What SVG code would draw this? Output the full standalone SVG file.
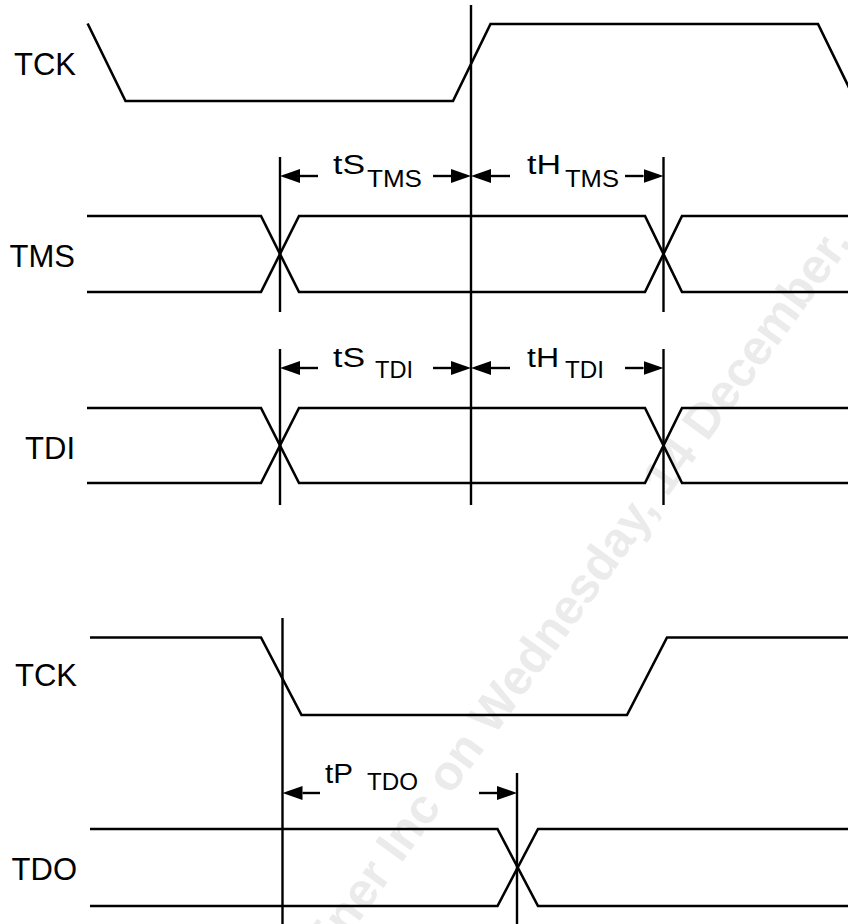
<svg xmlns="http://www.w3.org/2000/svg" width="848" height="924" viewBox="0 0 848 924">
  <style>
    .sig { fill: none; stroke: #000; stroke-width: 2.6; stroke-linejoin: miter; }
    .ref { stroke: #000; stroke-width: 2.4; }
    .dim { stroke: #000; stroke-width: 2.4; fill: none; }
    .lbl { font-family: "Liberation Sans", Arial, sans-serif; font-size: 31px; fill: #000; text-anchor: end; }
    .big { font-family: "Liberation Sans", Arial, sans-serif; font-size: 27px; fill: #000; }
    .sub { font-family: "Liberation Sans", Arial, sans-serif; font-size: 24px; fill: #000; }
    .wm { font-family: "Liberation Sans", Arial, sans-serif; font-size: 49px; font-weight: bold; fill: #ebebeb; }
  </style>
  <defs>
    <marker id="ah" markerUnits="userSpaceOnUse" markerWidth="22" markerHeight="16" viewBox="0 -8 22 16" refX="0" refY="0" orient="auto">
      <path d="M0,-7 L20,0 L0,7 Z" fill="#000"/>
    </marker>
  </defs>
  <rect width="848" height="924" fill="#fff"/>

  <g id="watermark">
    <text class="wm" x="340" y="948" transform="rotate(-54 340 948)">iner Inc on Wednesday, 14 December,</text>
  </g>

  <g id="tck-top">
    <text class="lbl" x="76" y="75">TCK</text>
    <polyline class="sig" points="87.6,23.5 125.5,101 453,101 490.5,24 818,24 856,102"/>
  </g>
  <g id="tms">
    <text class="lbl" x="75" y="267">TMS</text>
    <polyline class="sig" points="87,216 261,216 299,292 645,292 682,216 848,216"/>
    <polyline class="sig" points="87,292 261,292 299,216 645,216 682,292 848,292"/>
  </g>
  <g id="tdi">
    <text class="lbl" x="75" y="459">TDI</text>
    <polyline class="sig" points="87,408 261,408 299,483 645,483 682,408 848,408"/>
    <polyline class="sig" points="87,483 261,483 299,408 645,408 682,483 848,483"/>
  </g>
  <g id="tck-bottom">
    <text class="lbl" x="77" y="686">TCK</text>
    <polyline class="sig" points="90,637.5 261,637.5 301.5,715 627,715 667,637.5 848,637.5"/>
  </g>
  <g id="tdo">
    <text class="lbl" x="77" y="880">TDO</text>
    <polyline class="sig" points="90,829 497.5,829 538,906 848,906"/>
    <polyline class="sig" points="90,906 497.5,906 538,829 848,829"/>
  </g>

  <g id="connectors">
    <line class="ref" x1="471" y1="5" x2="471" y2="505"/>
    <line class="ref" x1="280" y1="157" x2="280" y2="312"/>
    <line class="ref" x1="663.5" y1="157" x2="663.5" y2="312"/>
    <line class="ref" x1="280" y1="349" x2="280" y2="505"/>
    <line class="ref" x1="663.5" y1="349" x2="663.5" y2="505"/>
    <line class="ref" x1="282.5" y1="618" x2="282.5" y2="924"/>
    <line class="ref" x1="517" y1="773" x2="517" y2="924"/>

    <line class="dim" x1="318" y1="176" x2="300" y2="176" marker-end="url(#ah)"/>
    <line class="dim" x1="433" y1="176" x2="451" y2="176" marker-end="url(#ah)"/>
    <line class="dim" x1="510" y1="176" x2="491" y2="176" marker-end="url(#ah)"/>
    <line class="dim" x1="625" y1="176" x2="643.5" y2="176" marker-end="url(#ah)"/>

    <line class="dim" x1="318" y1="368" x2="300" y2="368" marker-end="url(#ah)"/>
    <line class="dim" x1="433" y1="368" x2="451" y2="368" marker-end="url(#ah)"/>
    <line class="dim" x1="510" y1="368" x2="491" y2="368" marker-end="url(#ah)"/>
    <line class="dim" x1="625" y1="368" x2="643.5" y2="368" marker-end="url(#ah)"/>

    <line class="dim" x1="320" y1="793" x2="302.5" y2="793" marker-end="url(#ah)"/>
    <line class="dim" x1="479" y1="793" x2="497" y2="793" marker-end="url(#ah)"/>
  </g>

  <g id="timing-labels">
    <text class="big" x="333" y="174" textLength="32" lengthAdjust="spacingAndGlyphs">tS</text>
    <text class="sub" x="367" y="187" textLength="55" lengthAdjust="spacingAndGlyphs">TMS</text>
    <text class="big" x="527" y="174" textLength="34" lengthAdjust="spacingAndGlyphs">tH</text>
    <text class="sub" x="565" y="187" textLength="54" lengthAdjust="spacingAndGlyphs">TMS</text>

    <text class="big" x="333" y="367" textLength="32" lengthAdjust="spacingAndGlyphs">tS</text>
    <text class="sub" x="375" y="378" textLength="38" lengthAdjust="spacingAndGlyphs">TDI</text>
    <text class="big" x="527" y="367" textLength="32" lengthAdjust="spacingAndGlyphs">tH</text>
    <text class="sub" x="565" y="378" textLength="39" lengthAdjust="spacingAndGlyphs">TDI</text>

    <text class="big" x="325" y="783" textLength="28" lengthAdjust="spacingAndGlyphs">tP</text>
    <text class="sub" x="367" y="790" textLength="51" lengthAdjust="spacingAndGlyphs">TDO</text>
  </g>
</svg>
